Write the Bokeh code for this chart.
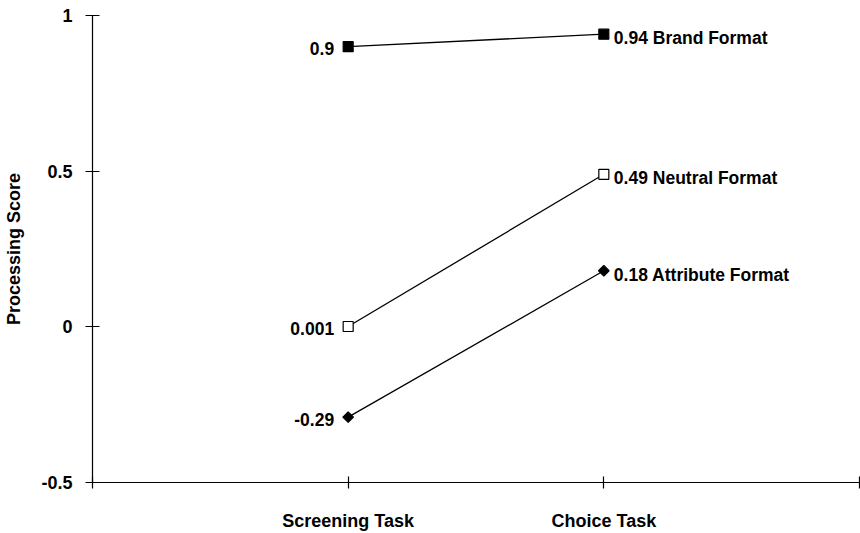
import math
from bokeh.plotting import figure
from bokeh.models import Range1d, ColumnDataSource, FixedTicker
from bokeh.core.properties import value
from bokeh.embed import file_html
from bokeh.resources import INLINE

# ---- data ----
tasks = ["Screening Task", "Choice Task"]
task_x = [1, 2]
series_names = ["Brand Format", "Neutral Format", "Attribute Format"]
screening_scores = [0.9, 0.001, -0.29]
choice_scores = [0.94, 0.49, 0.18]
y_ticks = [-0.5, 0, 0.5, 1]
x_ticks = [0, 1, 2, 3]

# ---- styles ----
markers = ["square", "square", "square"]
marker_angles = [0, 0, math.pi / 4]
marker_sizes = [10, 10, 7.5]
fills = ["black", "white", "black"]
FONT = "Liberation Sans"
FS = "18px"

p = figure(width=860, height=533, output_backend="svg", toolbar_location=None,
           x_range=Range1d(0, 3), y_range=Range1d(-0.5, 1),
           min_border_left=92, min_border_right=1, min_border_top=15, min_border_bottom=51)
p.grid.visible = False
p.outline_line_color = None
p.background_fill_color = "white"
p.border_fill_color = "white"

for name, s, c, m, a, sz, f in zip(series_names, screening_scores, choice_scores,
                                    markers, marker_angles, marker_sizes, fills):
    src = ColumnDataSource(dict(x=task_x, y=[s, c]))
    p.line("x", "y", source=src, line_color="black", line_width=1.3)
    p.scatter("x", "y", source=src, marker=m, size=sz, angle=a, fill_color=f,
              line_color="black", line_width=1.2)

left_src = ColumnDataSource(dict(x=[task_x[0]] * len(screening_scores), y=screening_scores,
                                 t=[str(v) for v in screening_scores]))
right_src = ColumnDataSource(dict(x=[task_x[1]] * len(choice_scores), y=choice_scores,
                                  t=[f"{v} {n}" for v, n in zip(choice_scores, series_names)]))
p.text("x", "y", text="t", source=left_src, text_align="right", text_baseline="middle",
       x_offset=-14, y_offset=2, text_font=value(FONT), text_font_style="bold",
       text_font_size="17.5px", text_color="black")
p.text("x", "y", text="t", source=right_src, text_align="left", text_baseline="middle",
       x_offset=10, y_offset=4, text_font=value(FONT), text_font_style="bold",
       text_font_size="17.5px", text_color="black")

# axes
p.xaxis.ticker = FixedTicker(ticks=x_ticks)
p.xaxis.major_label_overrides = {0: "", 1: tasks[0], 2: tasks[1], 3: ""}
p.xaxis.minor_tick_line_color = None
p.xaxis.major_tick_in = 6
p.xaxis.major_tick_out = 6
p.xaxis.major_label_standoff = 22

p.yaxis.ticker = FixedTicker(ticks=y_ticks)
p.yaxis.major_label_overrides = {-0.5: "-0.5", 0: "0", 0.5: "0.5", 1: "1"}
p.yaxis.minor_tick_line_color = None
p.yaxis.major_tick_in = 7
p.yaxis.major_tick_out = 7
p.yaxis.major_label_standoff = 13
p.yaxis.axis_label = "Processing Score"
p.yaxis.axis_label_standoff = 14
p.yaxis.axis_label_text_font = FONT
p.yaxis.axis_label_text_font_style = "bold"
p.yaxis.axis_label_text_font_size = FS
p.yaxis.axis_label_text_color = "black"

for ax in (p.xaxis, p.yaxis):
    ax.axis_line_color = "black"
    ax.axis_line_width = 1.2
    ax.major_tick_line_color = "black"
    ax.major_tick_line_width = 1.2
    ax.major_label_text_font = FONT
    ax.major_label_text_font_style = "bold"
    ax.major_label_text_font_size = FS
    ax.major_label_text_color = "black"

open("out.html", "w").write(file_html(p, INLINE))
